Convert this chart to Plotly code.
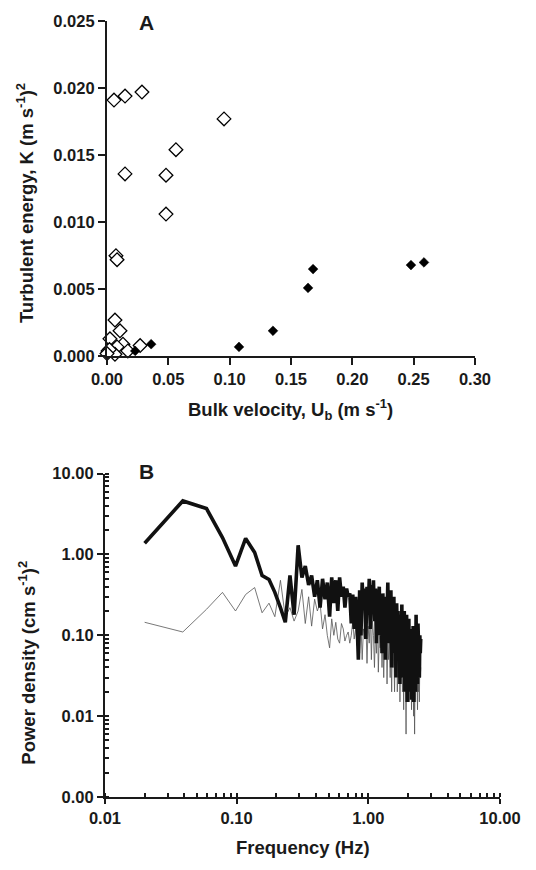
import plotly.graph_objects as go

# ---------------- Panel A data ----------------
open_velocity = [0.0057, 0.0147, 0.0285, 0.0954, 0.0562, 0.0147, 0.0481, 0.0481, 0.0073, 0.0082,
                 0.0270, 0.0065, 0.0106, 0.0024, 0.0130, 0.0082, 0.0008, 0.0065, 0.0170, 0.0020, 0.0000]
open_energy = [0.0191, 0.0194, 0.0197, 0.0177, 0.0154, 0.0136, 0.0135, 0.0106, 0.0075, 0.0072,
               0.0008, 0.0027, 0.0019, 0.0013, 0.0009, 0.0007, 0.0004, 0.00015, 0.0004, 0.0005, 0.0002]
filled_velocity = [0.023, 0.036, 0.1076, 0.1353, 0.1639, 0.168, 0.2478, 0.2584]
filled_energy = [0.0004, 0.0009, 0.0007, 0.0019, 0.0051, 0.0065, 0.0068, 0.0070]

a_xticks = [0.00, 0.05, 0.10, 0.15, 0.20, 0.25, 0.30]
a_yticks = [0.000, 0.005, 0.010, 0.015, 0.020, 0.025]

# ---------------- Panel B data ----------------
frequency = [
    0.020, 0.039, 0.059, 0.078, 0.098, 0.117, 0.137, 0.156, 0.176, 0.195,
    0.215, 0.234, 0.254, 0.273, 0.293, 0.313, 0.332, 0.352, 0.371, 0.391,
    0.410, 0.430, 0.449, 0.469, 0.488, 0.508, 0.527, 0.547, 0.566, 0.586,
    0.605, 0.625, 0.645, 0.664, 0.684, 0.703, 0.723, 0.742, 0.762, 0.781,
    0.801, 0.820, 0.840, 0.859, 0.879, 0.898, 0.918, 0.938, 0.957, 0.977,
    0.996, 1.016, 1.035, 1.055, 1.074, 1.094, 1.113, 1.133, 1.152, 1.172,
    1.191, 1.211, 1.230, 1.250, 1.270, 1.289, 1.309, 1.328, 1.348, 1.367,
    1.387, 1.406, 1.426, 1.445, 1.465, 1.484, 1.504, 1.523, 1.543, 1.563,
    1.582, 1.602, 1.621, 1.641, 1.660, 1.680, 1.699, 1.719, 1.738, 1.758,
    1.777, 1.797, 1.816, 1.836, 1.855, 1.875, 1.895, 1.914, 1.934, 1.953,
    1.973, 1.992, 2.012, 2.031, 2.051, 2.070, 2.090, 2.109, 2.129, 2.148,
    2.168, 2.188, 2.207, 2.227, 2.246, 2.266, 2.285, 2.305, 2.324, 2.344,
    2.363, 2.383, 2.402, 2.422, 2.441, 2.461, 2.480, 2.500]

power_thick = [
    1.38, 4.6, 3.7, 1.62, 0.72, 1.58, 1.06, 0.55, 0.49, 0.34,
    0.22, 0.145, 0.55, 0.18, 1.30, 0.52, 0.72, 0.42, 0.55, 0.30,
    0.48, 0.22, 0.50, 0.28, 0.45, 0.17, 0.52, 0.25, 0.48, 0.20,
    0.52, 0.30, 0.40, 0.22, 0.38, 0.30, 0.33, 0.14, 0.32, 0.12,
    0.30, 0.16, 0.05, 0.36, 0.10, 0.45, 0.22, 0.38, 0.09, 0.40,
    0.18, 0.50, 0.12, 0.42, 0.25, 0.48, 0.15, 0.38, 0.08, 0.35,
    0.20, 0.40, 0.10, 0.30, 0.06, 0.33, 0.14, 0.28, 0.05, 0.30,
    0.17, 0.45, 0.08, 0.28, 0.12, 0.36, 0.04, 0.25, 0.10, 0.30,
    0.06, 0.22, 0.03, 0.25, 0.09, 0.20, 0.05, 0.18, 0.025, 0.15,
    0.06, 0.24, 0.03, 0.16, 0.05, 0.20, 0.02, 0.14, 0.04, 0.18,
    0.015, 0.12, 0.035, 0.16, 0.02, 0.10, 0.03, 0.12, 0.016, 0.09,
    0.04, 0.13, 0.015, 0.08, 0.05, 0.10, 0.02, 0.18, 0.04, 0.09,
    0.025, 0.14, 0.05, 0.08, 0.03, 0.10, 0.06, 0.09]

power_thin = [
    0.145, 0.11, 0.21, 0.34, 0.20, 0.32, 0.39, 0.19, 0.25, 0.17,
    0.48, 0.17, 0.22, 0.15, 0.20, 0.37, 0.14, 0.30, 0.13, 0.28,
    0.20, 0.25, 0.12, 0.18, 0.10, 0.07, 0.16, 0.10, 0.145, 0.09,
    0.08, 0.14, 0.12, 0.085, 0.10, 0.11, 0.08, 0.10, 0.15, 0.09,
    0.12, 0.075, 0.11, 0.06, 0.14, 0.05, 0.12, 0.09, 0.16, 0.045,
    0.13, 0.08, 0.20, 0.05, 0.15, 0.10, 0.04, 0.12, 0.06, 0.18,
    0.035, 0.10, 0.07, 0.14, 0.04, 0.11, 0.03, 0.09, 0.06, 0.13,
    0.025, 0.08, 0.05, 0.10, 0.03, 0.07, 0.02, 0.09, 0.04, 0.06,
    0.02, 0.08, 0.035, 0.10, 0.02, 0.06, 0.03, 0.07, 0.015, 0.05,
    0.03, 0.08, 0.02, 0.05, 0.012, 0.06, 0.025, 0.04, 0.006, 0.05,
    0.015, 0.04, 0.02, 0.06, 0.015, 0.035, 0.02, 0.05, 0.012, 0.04,
    0.02, 0.06, 0.01, 0.03, 0.006, 0.04, 0.015, 0.07, 0.02, 0.04,
    0.012, 0.05, 0.02, 0.03, 0.015, 0.05, 0.03, 0.04]

b_xtickvals = [0.01, 0.1, 1, 10]
b_xticktext = ["0.01", "0.10", "1.00", "10.00"]
b_ytickvals = [0.001, 0.01, 0.1, 1, 10]
b_yticktext = ["0.00", "0.01", "0.10", "1.00", "10.00"]

# ---------------- layout geometry ----------------
W, H = 536, 870
ML, MR, MT, MB = 105, 36, 17, 73
PW, PH = W - ML - MR, H - MT - MB


def px(x):
    return (x - ML) / PW


def py(y):
    return (H - MB - y) / PH


FONT = "Liberation Sans, Arial, Helvetica, sans-serif"
INK = "#1a1a1a"
tickfont = dict(family=FONT, size=16.5, color=INK, weight="bold")

fig = go.Figure()

# Panel A
fig.add_trace(go.Scatter(x=open_velocity, y=open_energy, mode="markers", xaxis="x", yaxis="y",
                         marker=dict(symbol="diamond", size=10.5, color="white",
                                     line=dict(color="black", width=1.3)),
                         cliponaxis=False, showlegend=False))
fig.add_trace(go.Scatter(x=filled_velocity, y=filled_energy, mode="markers", xaxis="x", yaxis="y",
                         marker=dict(symbol="diamond", size=7.5, color="black",
                                     line=dict(color="black", width=0.5)),
                         cliponaxis=False, showlegend=False))

# Panel B (thin series beneath the thick one)
fig.add_trace(go.Scatter(x=frequency, y=power_thin, mode="lines", xaxis="x2", yaxis="y2",
                         line=dict(color="#555555", width=0.8), showlegend=False))
fig.add_trace(go.Scatter(x=frequency, y=power_thick, mode="lines", xaxis="x2", yaxis="y2",
                         line=dict(color="#111111", width=3.6), showlegend=False))

minor_x = [m * 10 ** e for e in (-2, -1, 0) for m in range(1, 10)] + [10]
minor_y = [m * 10 ** e for e in (-3, -2, -1, 0) for m in range(1, 10)] + [10]

fig.update_layout(
    width=W, height=H, margin=dict(l=ML, r=MR, t=MT, b=MB),
    paper_bgcolor="white", plot_bgcolor="white",
    xaxis=dict(domain=[px(107), px(475)], range=[0, 0.30], anchor="y",
               tickvals=a_xticks, tickformat=".2f", ticks="outside", ticklen=7, tickwidth=2,
               tickcolor=INK, showline=True, linecolor=INK, linewidth=2.2,
               showgrid=False, zeroline=False, tickfont=tickfont),
    yaxis=dict(domain=[py(354), py(17)], range=[0, 0.025], anchor="x",
               tickvals=a_yticks, tickformat=".3f", ticks="outside", ticklen=7, tickwidth=2,
               tickcolor=INK, showline=True, linecolor=INK, linewidth=2.2,
               showgrid=False, zeroline=False, tickfont=tickfont),
    xaxis2=dict(domain=[0, 1], type="log", range=[-2, 1], anchor="y2",
                tickvals=b_xtickvals, ticktext=b_xticktext, ticks="outside", ticklen=5, tickwidth=2,
                tickcolor=INK, showline=True, linecolor=INK, linewidth=2.2,
                showgrid=False, zeroline=False, tickfont=tickfont,
                minor=dict(tickvals=minor_x, ticks="inside", ticklen=4, tickwidth=2,
                           tickcolor=INK, showgrid=False)),
    yaxis2=dict(domain=[0, py(472)], type="log", range=[-3, 1], anchor="x2",
                tickvals=b_ytickvals, ticktext=b_yticktext, ticks="outside", ticklen=6, tickwidth=2,
                tickcolor=INK, showline=True, linecolor=INK, linewidth=2.2,
                showgrid=False, zeroline=False, tickfont=tickfont,
                minor=dict(tickvals=minor_y, ticks="inside", ticklen=4, tickwidth=2,
                           tickcolor=INK, showgrid=False)),
)

title_font = dict(family=FONT, size=18.5, color=INK, weight="bold")
annotations = [
    dict(text="A", x=px(146), y=py(19), font=dict(family=FONT, size=21, color=INK, weight="bold")),
    dict(text="B", x=px(146), y=py(470), font=dict(family=FONT, size=21, color=INK, weight="bold")),
    dict(text="Bulk velocity, U<sub>b</sub> (m s<sup>-1</sup>)", x=px(290), y=py(408), font=title_font),
    dict(text="Turbulent energy, K (m s<sup>-1</sup>)<sup>2</sup>", x=px(25), y=py(200),
         textangle=-90, font=title_font),
    dict(text="Power density (cm s<sup>-1</sup>)<sup>2</sup>", x=px(27), y=py(662),
         textangle=-90, font=title_font),
    dict(text="Frequency (Hz)", x=px(303), y=py(848), font=title_font),
]
for a in annotations:
    fig.add_annotation(xref="paper", yref="paper", showarrow=False,
                       xanchor="center", yanchor="middle", **a)

fig.write_html("out.html")
